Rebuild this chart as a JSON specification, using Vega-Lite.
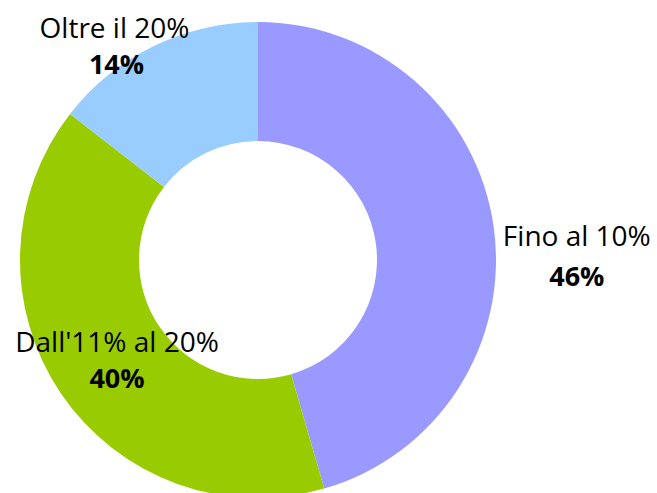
{
  "$schema": "https://vega.github.io/schema/vega-lite/v6.json",
  "autosize": "none",
  "width": 516,
  "height": 520,
  "padding": {"left": 0, "top": 0, "right": 141, "bottom": 0},
  "background": "white",
  "view": {"stroke": null},
  "data": {"values": [
    {"cat": "Fino al 10%", "value": 45.51, "label": "46%", "ord": 1},
    {"cat": "Dall'11% al 20%", "value": 40.0, "label": "40%", "ord": 2},
    {"cat": "Oltre il 20%", "value": 14.49, "label": "14%", "ord": 3}
  ]},
  "encoding": {
    "theta": {"field": "value", "type": "quantitative", "stack": true},
    "order": {"field": "ord", "type": "quantitative"}
  },
  "layer": [
    {
      "mark": {"type": "arc", "outerRadius": 238, "innerRadius": 119},
      "encoding": {
        "color": {"field": "cat", "type": "nominal", "legend": null,
          "scale": {"domain": ["Fino al 10%", "Dall'11% al 20%", "Oltre il 20%"], "range": ["#9999FF", "#99CC00", "#99CCFF"]}}
      }
    },
    {
      "mark": {"type": "text", "radius": 322, "dx": 0, "dy": 23, "font": "Open Sans", "fontSize": 28, "fill": "black", "baseline": "middle", "align": "center"},
      "encoding": {"detail": {"field": "cat"}, "text": {"condition": {"test": "datum.cat === 'Fino al 10%'", "field": "cat", "type": "nominal"}, "value": ""}}
    },
    {
      "mark": {"type": "text", "radius": 322, "dx": 0, "dy": 63, "font": "Open Sans", "fontSize": 27, "fontWeight": "bold", "fill": "black", "baseline": "middle", "align": "center"},
      "encoding": {"detail": {"field": "cat"}, "text": {"condition": {"test": "datum.cat === 'Fino al 10%'", "field": "label", "type": "nominal"}, "value": ""}}
    },
    {
      "mark": {"type": "text", "radius": 174, "dx": 3, "dy": -14, "font": "Open Sans", "fontSize": 28, "fill": "black", "baseline": "middle", "align": "center"},
      "encoding": {"detail": {"field": "cat"}, "text": {"condition": {"test": "datum.cat === \"Dall'11% al 20%\"", "field": "cat", "type": "nominal"}, "value": ""}}
    },
    {
      "mark": {"type": "text", "radius": 174, "dx": 3, "dy": 22, "font": "Open Sans", "fontSize": 27, "fontWeight": "bold", "fill": "black", "baseline": "middle", "align": "center"},
      "encoding": {"detail": {"field": "cat"}, "text": {"condition": {"test": "datum.cat === \"Dall'11% al 20%\"", "field": "label", "type": "nominal"}, "value": ""}}
    },
    {
      "mark": {"type": "text", "radius": 240, "dx": -38, "dy": -14, "font": "Open Sans", "fontSize": 28, "fill": "black", "baseline": "middle", "align": "center"},
      "encoding": {"detail": {"field": "cat"}, "text": {"condition": {"test": "datum.cat === 'Oltre il 20%'", "field": "cat", "type": "nominal"}, "value": ""}}
    },
    {
      "mark": {"type": "text", "radius": 240, "dx": -36, "dy": 22, "font": "Open Sans", "fontSize": 27, "fontWeight": "bold", "fill": "black", "baseline": "middle", "align": "center"},
      "encoding": {"detail": {"field": "cat"}, "text": {"condition": {"test": "datum.cat === 'Oltre il 20%'", "field": "label", "type": "nominal"}, "value": ""}}
    }
  ]
}
